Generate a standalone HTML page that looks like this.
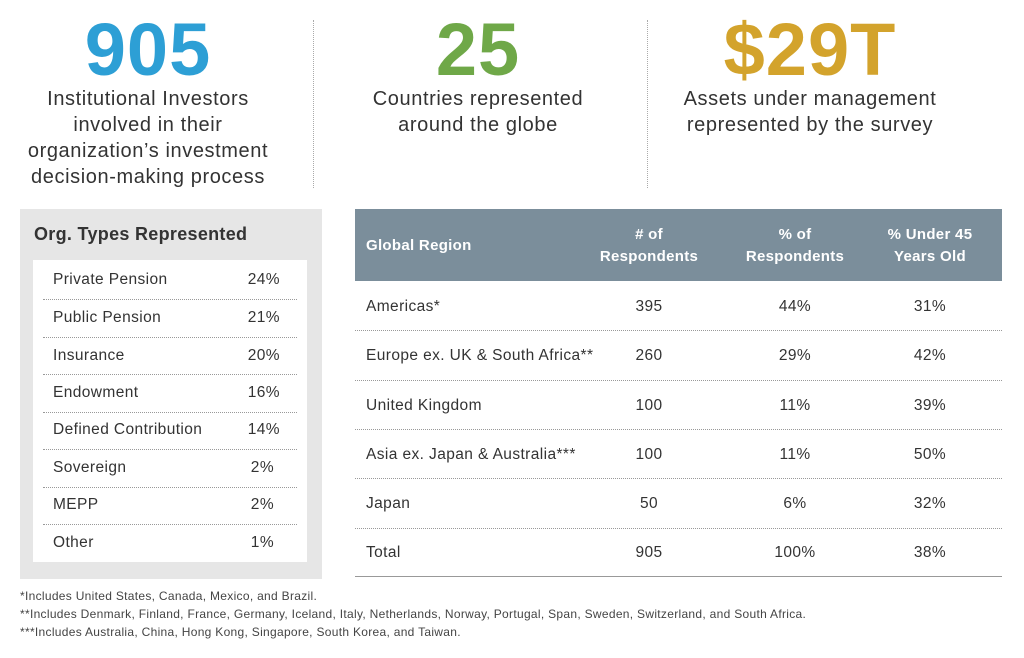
<!DOCTYPE html>
<html><head><style>
body{margin:0;width:1024px;height:658px;background:#fff;font-family:"Liberation Sans",sans-serif;color:#333;position:relative;overflow:hidden}
.a{position:absolute}
.big{font-weight:bold;font-size:74px;line-height:74px;text-align:center;letter-spacing:1px}
.sub{font-size:20px;line-height:26px;text-align:center;color:#333;letter-spacing:0.6px}
.vs{border-left:1.5px dotted #aaa;width:0;top:20px;height:168px}
.l{font-size:15.5px;color:#333;letter-spacing:0.4px}
.sep{border-top:1px dotted #999;height:0}
.c{text-align:center;width:120px;font-size:15.5px;letter-spacing:0.4px}
.h{color:#fff;font-size:15px;text-align:center;line-height:22px;font-weight:bold;letter-spacing:0.3px}
.fn{font-size:12px;color:#444;letter-spacing:0.3px}
</style></head><body>
<div class="a big" style="left:48px;width:200px;top:13px;color:#2d9fd5">905</div>
<div class="a sub" style="left:8px;width:280px;top:86px">Institutional Investors involved in their organization’s investment decision-making process</div>
<div class="a vs" style="left:313px"></div>
<div class="a big" style="left:378px;width:200px;top:13px;color:#6fa848">25</div>
<div class="a sub" style="left:330px;width:296px;top:86px">Countries represented<br>around the globe</div>
<div class="a vs" style="left:647px"></div>
<div class="a big" style="left:710px;width:200px;top:13px;color:#d3a32c">$29T</div>
<div class="a sub" style="left:650px;width:320px;top:86px">Assets under management<br>represented by the survey</div>

<div class="a" style="left:20px;top:209px;width:302px;height:370px;background:#e6e6e6"></div>
<div class="a" style="left:34px;top:224px;font-size:18px;font-weight:bold;color:#333;letter-spacing:0.3px">Org. Types Represented</div>
<div class="a" style="left:33px;top:260px;width:274px;height:302px;background:#fff"></div>
<div class="a l" style="left:53px;top:271px">Private Pension</div><div class="a l" style="left:230px;width:50px;text-align:right;top:271px">24%</div>
<div class="a sep" style="left:43px;width:254px;top:299px"></div>
<div class="a l" style="left:53px;top:309px">Public Pension</div><div class="a l" style="left:230px;width:50px;text-align:right;top:309px">21%</div>
<div class="a sep" style="left:43px;width:254px;top:337px"></div>
<div class="a l" style="left:53px;top:347px">Insurance</div><div class="a l" style="left:230px;width:50px;text-align:right;top:347px">20%</div>
<div class="a sep" style="left:43px;width:254px;top:374px"></div>
<div class="a l" style="left:53px;top:384px">Endowment</div><div class="a l" style="left:230px;width:50px;text-align:right;top:384px">16%</div>
<div class="a sep" style="left:43px;width:254px;top:412px"></div>
<div class="a l" style="left:53px;top:421px">Defined Contribution</div><div class="a l" style="left:230px;width:50px;text-align:right;top:421px">14%</div>
<div class="a sep" style="left:43px;width:254px;top:449px"></div>
<div class="a l" style="left:53px;top:459px">Sovereign</div><div class="a l" style="left:224px;width:50px;text-align:right;top:459px">2%</div>
<div class="a sep" style="left:43px;width:254px;top:487px"></div>
<div class="a l" style="left:53px;top:496px">MEPP</div><div class="a l" style="left:224px;width:50px;text-align:right;top:496px">2%</div>
<div class="a sep" style="left:43px;width:254px;top:524px"></div>
<div class="a l" style="left:53px;top:534px">Other</div><div class="a l" style="left:224px;width:50px;text-align:right;top:534px">1%</div>

<div class="a" style="left:355px;top:209px;width:647px;height:72px;background:#7b8e9b"></div>
<div class="a h" style="left:366px;top:235px;text-align:left">Global Region</div>
<div class="a h" style="left:589px;width:120px;top:224px"># of<br>Respondents</div>
<div class="a h" style="left:735px;width:120px;top:224px">% of<br>Respondents</div>
<div class="a h" style="left:870px;width:120px;top:224px">% Under 45<br>Years Old</div>

<div class="a l" style="left:366px;top:298px">Americas*</div><div class="a c" style="left:589px;top:298px">395</div><div class="a c" style="left:735px;top:298px">44%</div><div class="a c" style="left:870px;top:298px">31%</div>
<div class="a sep" style="left:355px;width:647px;top:330px"></div>
<div class="a l" style="left:366px;top:347px">Europe ex. UK &amp; South Africa**</div><div class="a c" style="left:589px;top:347px">260</div><div class="a c" style="left:735px;top:347px">29%</div><div class="a c" style="left:870px;top:347px">42%</div>
<div class="a sep" style="left:355px;width:647px;top:380px"></div>
<div class="a l" style="left:366px;top:397px">United Kingdom</div><div class="a c" style="left:589px;top:397px">100</div><div class="a c" style="left:735px;top:397px">11%</div><div class="a c" style="left:870px;top:397px">39%</div>
<div class="a sep" style="left:355px;width:647px;top:429px"></div>
<div class="a l" style="left:366px;top:446px">Asia ex. Japan &amp; Australia***</div><div class="a c" style="left:589px;top:446px">100</div><div class="a c" style="left:735px;top:446px">11%</div><div class="a c" style="left:870px;top:446px">50%</div>
<div class="a sep" style="left:355px;width:647px;top:478px"></div>
<div class="a l" style="left:366px;top:495px">Japan</div><div class="a c" style="left:589px;top:495px">50</div><div class="a c" style="left:735px;top:495px">6%</div><div class="a c" style="left:870px;top:495px">32%</div>
<div class="a sep" style="left:355px;width:647px;top:528px"></div>
<div class="a l" style="left:366px;top:544px">Total</div><div class="a c" style="left:589px;top:544px">905</div><div class="a c" style="left:735px;top:544px">100%</div><div class="a c" style="left:870px;top:544px">38%</div>
<div class="a" style="left:355px;width:647px;top:576px;border-top:1px solid #999"></div>

<div class="a fn" style="left:20px;top:589px">*Includes United States, Canada, Mexico, and Brazil.</div>
<div class="a fn" style="left:20px;top:607px">**Includes Denmark, Finland, France, Germany, Iceland, Italy, Netherlands, Norway, Portugal, Span, Sweden, Switzerland, and South Africa.</div>
<div class="a fn" style="left:20px;top:625px">***Includes Australia, China, Hong Kong, Singapore, South Korea, and Taiwan.</div>
</body></html>
